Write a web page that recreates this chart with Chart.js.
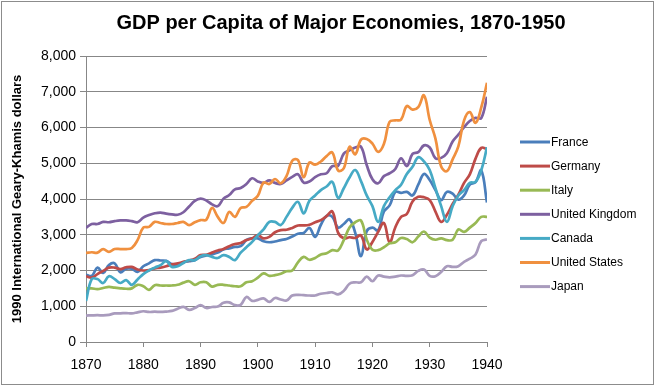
<!DOCTYPE html>
<html>
<head>
<meta charset="utf-8">
<script src="https://cdn.jsdelivr.net/npm/chart.js@4.4.1/dist/chart.umd.min.js"></script>
<style>
  html, body { margin: 0; padding: 0; background: #fff; }
  canvas { display: block; }
</style>
</head>
<body>
<canvas id="gdpChart" width="656" height="387"></canvas>
<script>
// 1870 .. 1940, one value per year (1990 Int. GK$)
const years = [];
for (let y = 1870; y <= 1940; y++) years.push(y);

const chartTitle = 'GDP per Capita of Major Economies, 1870-1950';
const yAxisTitle = '1990 International Geary-Khamis dollars';

const france = [
    1880, 1850, 2080, 1930, 2150, 2200, 1950, 2050, 2050, 1960,
    2120, 2200, 2290, 2280, 2270, 2180, 2150, 2230, 2260, 2290,
    2380, 2420, 2450, 2500, 2590, 2620, 2660, 2680, 2850, 2900,
    2900, 2820, 2790, 2810, 2850, 2880, 2950, 3030, 3050, 3190,
    2940, 3280, 3530, 3500, 3200, 3300, 3430, 3050, 2400, 3100,
    3200, 3120, 3650, 3820, 4200, 4170, 4200, 4100, 4400, 4700,
    4530, 4250, 3970, 4200, 4150, 3980, 4100, 4400, 4470, 4800,
    3900
];
const germany = [
    1840, 1800, 1900, 1990, 2080, 2080, 2040, 2090, 2100, 2030,
    2000, 2010, 2060, 2080, 2120, 2170, 2200, 2240, 2280, 2330,
    2430, 2440, 2500, 2560, 2600, 2680, 2740, 2770, 2850, 2900,
    2990, 2900, 2940, 3070, 3130, 3140, 3190, 3260, 3260, 3280,
    3350, 3410, 3520, 3650, 3060, 2900, 2930, 2910, 2980, 2590,
    2800, 3080, 3330, 2790, 3210, 3500, 3580, 3930, 4060, 4050,
    3970, 3650, 3360, 3560, 3860, 4120, 4450, 4690, 5130, 5430,
    5400
];
const italy = [
    1500, 1500, 1480, 1510, 1540, 1520, 1500, 1490, 1500, 1600,
    1560, 1460, 1590, 1580, 1580, 1580, 1600, 1660, 1700, 1600,
    1670, 1670, 1550, 1600, 1600, 1580, 1560, 1560, 1670, 1700,
    1800, 1920, 1850, 1870, 1910, 1980, 2000, 2230, 2380, 2300,
    2350, 2450, 2480, 2570, 2560, 2850, 3200, 3350, 3400, 2870,
    2580, 2570, 2650, 2760, 2790, 2910, 2880, 2790, 2950, 3090,
    2920, 2860, 2900, 2850, 2860, 3150, 3080, 3200, 3330, 3500,
    3500
];
const unitedKingdom = [
    3190, 3300, 3300, 3360, 3350, 3380, 3400, 3400, 3380, 3350,
    3480, 3550, 3600, 3620, 3590, 3570, 3560, 3630, 3790, 3950,
    4010, 3960, 3850, 3800, 4010, 4110, 4270, 4310, 4420, 4580,
    4490, 4450, 4520, 4450, 4420, 4520, 4620, 4690, 4460, 4490,
    4610, 4690, 4720, 4920, 4930, 5270, 5360, 5440, 5460, 4950,
    4550, 4440, 4640, 4720, 4840, 5140, 4920, 5260, 5310, 5500,
    5440, 5140, 5150, 5280, 5610, 5800, 6010, 6180, 6270, 6260,
    6860
];
const canada = [
    1150, 1760, 1760, 1650, 1840, 1760, 1650, 1730, 1600, 1750,
    1900, 2000, 2080, 2150, 2260, 2100, 2120, 2210, 2290, 2290,
    2400, 2430, 2380, 2350, 2430, 2380, 2290, 2500, 2650, 2800,
    2990, 3150, 3360, 3360, 3270, 3500, 3750, 3920, 3600, 3950,
    4100, 4250, 4350, 4480, 4030, 4300, 4600, 4810, 4500, 4100,
    3800, 3360, 3800, 4050, 4250, 4400, 4700, 4900, 5170, 5050,
    4810, 4300, 3800, 3360, 3800, 4100, 4250, 4450, 4480, 4800,
    5450
];
const unitedStates = [
    2490, 2510, 2500, 2600, 2520, 2600, 2600, 2600, 2630, 2850,
    3200, 3220, 3360, 3330, 3300, 3300, 3330, 3360, 3270, 3350,
    3410, 3420, 3750, 3500, 3330, 3640, 3500, 3750, 3780, 3950,
    4090, 4460, 4420, 4560, 4440, 4640, 5070, 5090, 4610, 5020,
    4960, 5050, 5200, 5300, 4800, 4860, 5460, 5250, 5660, 5680,
    5550, 5320, 5540, 6160, 6200, 6220, 6600, 6500, 6570, 6900,
    6210, 5690, 4910, 4780, 5110, 5470, 6200, 6430, 6130, 6560,
    7250
];
const japan = [
    740, 745, 750, 745, 760, 800, 800, 810, 800, 830,
    860, 840, 850, 840, 850, 870, 930, 980, 900, 950,
    1030, 950, 980, 990, 1100, 1110, 1030, 1040, 1260, 1150,
    1180, 1220, 1120, 1230, 1190, 1160, 1300, 1320, 1310, 1300,
    1300, 1350, 1370, 1390, 1330, 1430, 1630, 1670, 1670, 1830,
    1700, 1860, 1830, 1810, 1830, 1860, 1850, 1870, 1990, 2030,
    1850, 1840, 1960, 2120, 2100, 2120, 2240, 2330, 2450, 2820,
    2870
];

const seriesNames = ['France', 'Germany', 'Italy', 'United Kingdom', 'Canada', 'United States', 'Japan'];
const seriesValues = [france, germany, italy, unitedKingdom, canada, unitedStates, japan];
const seriesColors = ['#4a7ebb', '#be4b48', '#98b954', '#7d60a0', '#46aac5', '#f0903f', '#a99bbd'];

const yTicks = [0, 1000, 2000, 3000, 4000, 5000, 6000, 7000, 8000];
const xTicks = [1870, 1880, 1890, 1900, 1910, 1920, 1930, 1940];

const FONT = '"Liberation Sans", Arial, sans-serif';
const GRID = '#878787';

function toPoints(values) {
    return values.map((v, i) => ({ x: years[i], y: v }));
}

// white background, thin outer frame and the title (centred like the Excel original)
const framePlugin = {
    id: 'frame',
    beforeDraw(chart) {
        const ctx = chart.ctx;
        ctx.save();
        ctx.fillStyle = '#fff';
        ctx.fillRect(0, 0, chart.width, chart.height);
        ctx.strokeStyle = '#8c8c8c';
        ctx.lineWidth = 1;
        ctx.strokeRect(1.5, 1.5, chart.width - 4, chart.height - 4);

        ctx.fillStyle = '#000';
        ctx.font = 'bold 20px ' + FONT;
        ctx.textAlign = 'center';
        ctx.textBaseline = 'middle';
        ctx.fillText(chartTitle, 341, 23);
        ctx.restore();
    }
};

// legend drawn to the right of the plot, one row per series
const sideLegend = {
    id: 'sideLegend',
    afterDraw(chart) {
        const ctx = chart.ctx;
        ctx.save();
        ctx.font = '12px ' + FONT;
        ctx.textBaseline = 'middle';
        chart.data.datasets.forEach((ds, i) => {
            const y = 142 + i * 24.1;
            ctx.strokeStyle = ds.borderColor;
            ctx.lineWidth = 3;
            ctx.beginPath();
            ctx.moveTo(520, y);
            ctx.lineTo(550, y);
            ctx.stroke();
            ctx.fillStyle = '#000';
            ctx.fillText(ds.label, 551, y + 0.5);
        });
        ctx.restore();
    }
};

new Chart(document.getElementById('gdpChart'), {
    type: 'line',
    data: {
        datasets: seriesNames.map((name, i) => ({
            label: name,
            data: toPoints(seriesValues[i]),
            borderColor: seriesColors[i],
            backgroundColor: seriesColors[i],
            borderWidth: 2.7,
            tension: 0.4,
            pointRadius: 0,
            fill: false,
            order: seriesNames.length - i
        }))
    },
    options: {
        responsive: false,
        animation: false,
        devicePixelRatio: 1,
        layout: {
            padding: { top: 56, right: 169, bottom: 10, left: 6 }
        },
        plugins: {
            legend: { display: false },
            tooltip: { enabled: false },
            title: { display: false }
        },
        scales: {
            x: {
                type: 'linear',
                min: 1870,
                max: 1940,
                afterBuildTicks(scale) {
                    scale.ticks = xTicks.map((v) => ({ value: v }));
                },
                afterFit(scale) { scale.height = 35; },
                ticks: {
                    color: '#000',
                    font: { family: FONT, size: 14 },
                    padding: 10,
                    maxRotation: 0,
                    callback: (v) => String(v)
                },
                grid: {
                    drawOnChartArea: false,
                    drawTicks: true,
                    tickLength: 5,
                    color: GRID
                },
                border: { display: true, color: GRID }
            },
            y: {
                min: 0,
                max: 8000,
                afterBuildTicks(scale) {
                    scale.ticks = yTicks.map((v) => ({ value: v }));
                },
                afterFit(scale) { scale.width = 80; },
                ticks: {
                    color: '#000',
                    font: { family: FONT, size: 14 },
                    padding: 4,
                    callback: (v) => v.toLocaleString('en-US')
                },
                grid: {
                    color: GRID,
                    drawTicks: true,
                    tickLength: 6
                },
                border: { display: true, color: GRID },
                title: {
                    display: true,
                    text: yAxisTitle,
                    color: '#000',
                    font: { family: FONT, size: 13, weight: 'bold' },
                    padding: { top: 4, bottom: 0 }
                }
            }
        }
    },
    plugins: [framePlugin, sideLegend]
});
</script>
</body>
</html>
